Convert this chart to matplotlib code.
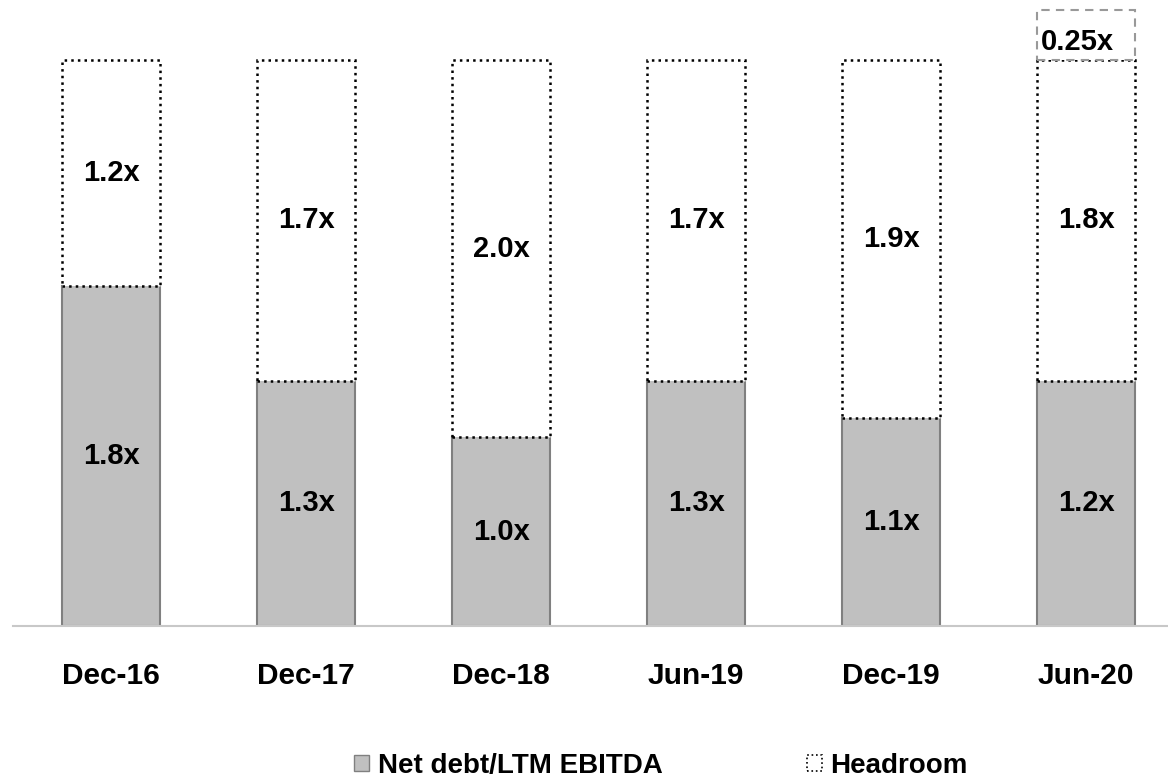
import numpy as np
import matplotlib
matplotlib.use('Agg')
import matplotlib.pyplot as plt
from matplotlib.patches import Patch

plt.rcParams['font.family'] = ['Liberation Sans Narrow', 'Liberation Sans', 'DejaVu Sans']
plt.rcParams['font.weight'] = 'bold'

periods = ['Dec-16', 'Dec-17', 'Dec-18', 'Jun-19', 'Dec-19', 'Jun-20']
net_debt = [1.8, 1.3, 1.0, 1.3, 1.1, 1.3]
headroom = [1.2, 1.7, 2.0, 1.7, 1.9, 1.7]
net_debt_labels = ['1.8x', '1.3x', '1.0x', '1.3x', '1.1x', '1.2x']
headroom_labels = ['1.2x', '1.7x', '2.0x', '1.7x', '1.9x', '1.8x']
extra = [0, 0, 0, 0, 0, 0.265]
extra_labels = ['', '', '', '', '', '0.25x']

fig = plt.figure(figsize=(11.68, 7.83), dpi=100)
ax = fig.add_axes([13/1168, 1-626/783, 1-13/1168, 626/783])

x = np.arange(len(periods))
w = 0.50
lab_fs = 21
ax.bar(x, net_debt, w, color='#c0c0c0', edgecolor='#808080', lw=1.5)
ax.bar(x, headroom, w, bottom=net_debt, color='white', edgecolor='black', lw=1.8, ls=':')
tot = np.array(net_debt) + np.array(headroom)
for i in range(len(periods)):
    if extra[i] > 0:
        ax.bar(x[i], extra[i], w, bottom=tot[i], color='white', edgecolor='#999999', lw=1.5, ls=(0, (4, 3)))
        ax.text(x[i] - w / 2 + 0.02, tot[i] + extra[i] * 0.36, extra_labels[i], ha='left', va='center',
                fontsize=lab_fs, fontweight='bold')
    ax.text(x[i], net_debt[i] / 2, net_debt_labels[i], ha='center', va='center', fontsize=lab_fs, fontweight='bold')
    ax.text(x[i], net_debt[i] + headroom[i] / 2, headroom_labels[i], ha='center', va='center',
            fontsize=lab_fs, fontweight='bold')

ax.set_xlim(-0.503, 5.42)
ax.set_ylim(0, 3.318)
for s in ['top', 'right', 'left']:
    ax.spines[s].set_visible(False)
ax.spines['bottom'].set_color('#c8c8c8')
ax.spines['bottom'].set_linewidth(1.5)
ax.set_yticks([])
ax.set_xticks(x)
ax.set_xticklabels(periods, fontsize=21.5, fontweight='bold')
ax.tick_params(axis='x', length=0, pad=26)

handles = [Patch(facecolor='#c0c0c0', edgecolor='#808080', lw=1),
           Patch(facecolor='white', edgecolor='black', lw=1.2, ls=':')]
fig.legend(handles, ['Net debt/LTM EBITDA', 'Headroom'], loc='center', bbox_to_anchor=(0.566, 0.022),
           ncol=2, frameon=False, handlelength=0.55, handleheight=0.55,
           handletextpad=0.3, columnspacing=5.2, prop={'weight': 'bold', 'size': 20})

fig.savefig('out.png', dpi=100)
